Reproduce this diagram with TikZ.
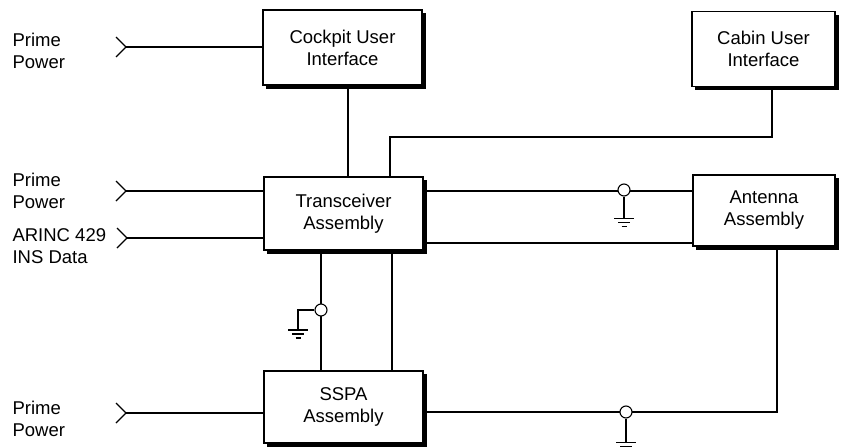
\documentclass[tikz,border=0pt]{standalone}
\usepackage{fontspec}
\setmainfont{Liberation Sans}
\usetikzlibrary{calc}
\begin{document}
\begin{tikzpicture}[x=1pt,y=-1pt,line width=1.1pt,
  txt/.style={font=\fontsize{18.5}{22}\selectfont},
  box/.style={txt,draw,fill=white,align=center,inner sep=0pt},
  lbl/.style={txt,align=left,anchor=west,inner sep=0pt},
  junc/.style={circle,draw,fill=white,inner sep=0pt,minimum size=12pt},
  gnd/.pic={\draw (-10,0)--(10,0); \draw (-6,4)--(6,4); \draw (-2.5,8)--(2.5,8);},
  chev/.pic={\draw (-10,-10)--(0,0)--(-10,10);}]
\useasboundingbox (0,0) rectangle (841,447);

% boxes
\node[box,minimum width=159pt,minimum height=75pt] (cockpit) at (342.5,47.5) {Cockpit User\\Interface};
\node[box,minimum width=143pt,minimum height=75pt] (cabin) at (763.5,49) {Cabin User\\Interface};
\node[box,minimum width=159pt,minimum height=73pt] (trans) at (343.5,213.5) {Transceiver\\Assembly};
\node[box,minimum width=142pt,minimum height=71pt] (antenna) at (764,210.5) {Antenna\\Assembly};
\node[box,minimum width=159pt,minimum height=72pt] (sspa) at (343.5,407) {SSPA\\Assembly};

% shadows (thick right and bottom edges)
\foreach \b in {cockpit,cabin,trans,antenna,sspa}{
  \fill ($(\b.south west)+(4,0)$) rectangle ($(\b.south east)+(3,3)$);
  \fill ($(\b.north east)+(0,4)$) rectangle ($(\b.south east)+(3,0)$);
}

% labels
\node[lbl] (pp1) at (12,50.5) {Prime\\Power};
\node[lbl] (pp2) at (12,190.5) {Prime\\Power};
\node[lbl] (arinc) at (12,246) {ARINC 429\\INS Data};
\node[lbl] (pp3) at (12,418.5) {Prime\\Power};

% input chevrons
\coordinate (c1) at (126,47);
\coordinate (c2) at (126,191);
\coordinate (c3) at (127,238);
\coordinate (c4) at (126,413);
\draw (c1) pic{chev} -- (c1 -| cockpit.west);
\draw (c2) pic{chev} -- (c2 -| trans.west);
\draw (c3) pic{chev} -- (c3 -| trans.west);
\draw (c4) pic{chev} -- (c4 -| sspa.west);

% helper coordinates
\coordinate (xa) at (348,0);
\coordinate (xb) at (390,0);
\coordinate (xc) at (772,0);
\coordinate (yb) at (0,137);
\coordinate (xd) at (321,0);
\coordinate (xe) at (392,0);
\coordinate (xf) at (777,0);
\coordinate (ya) at (0,191);
\coordinate (yc) at (0,243);
\coordinate (yd) at (0,412);

% cockpit - transceiver
\draw (cockpit.south -| xa) -- (trans.north -| xa);
% transceiver - cabin
\draw (trans.north -| xb) -- (xb |- yb) -- (xc |- yb) -- (cabin.south -| xc);
% transceiver - antenna
\draw ($(trans.east |- ya)+(3,0)$) -- (antenna.west |- ya);
\draw ($(trans.east |- yc)+(3,0)$) -- (antenna.west |- yc);
\node[junc] (j1) at (624,190) {};
\draw (j1.south) -- ++(0,22) pic{gnd};
% transceiver - sspa
\draw ($(trans.south -| xd)+(0,3)$) -- (sspa.north -| xd);
\draw ($(trans.south -| xe)+(0,3)$) -- (sspa.north -| xe);
\node[junc] (j2) at (321,310) {};
\draw (j2.west) -- (298,310) -- (298,330) pic{gnd};
% antenna - sspa
\draw ($(antenna.south -| xf)+(0,3)$) -- (xf |- yd) -- ($(sspa.east |- yd)+(3,0)$);
\node[junc] (j3) at (626,412) {};
\draw (j3.south) -- ++(0,24) pic{gnd};
\end{tikzpicture}
\end{document}
